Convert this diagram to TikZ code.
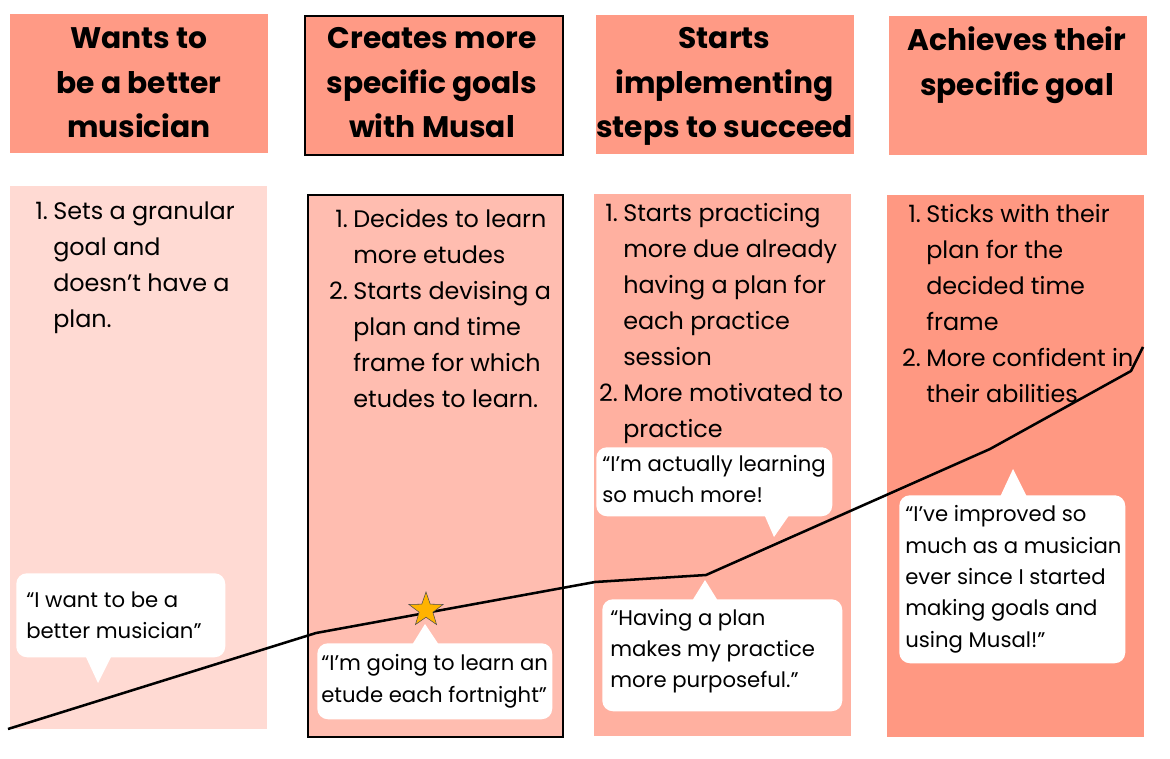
\documentclass[tikz,border=0pt]{standalone}
\usepackage{fontspec}
\setmainfont{Poppins}
\usetikzlibrary{shapes.geometric}

\definecolor{headred}{HTML}{FF9A85}
\definecolor{stageone}{HTML}{FFDAD3}
\definecolor{stagetwo}{HTML}{FFBDB0}
\definecolor{stagethree}{HTML}{FFB0A0}
\definecolor{stagefour}{HTML}{FF9882}
\definecolor{staryellow}{HTML}{FFB300}

\newcommand{\num}[1]{\makebox[22.5pt][r]{#1\hspace{4pt}}}
\newcommand{\gap}{\hspace*{22.5pt}}

\begin{document}
\begin{tikzpicture}[x=0.75pt,y=-0.75pt,
  head/.style={fill=headred,minimum width=193.5pt,minimum height=104.25pt,inner sep=0,anchor=north west},
  stage/.style={minimum width=192.75pt,minimum height=406.5pt,inner sep=0,anchor=north west},
  frame/.style={draw=black,line width=1.5pt},
  headtext/.style={font=\bfseries\fontsize{22.3pt}{33.4pt}\selectfont,align=center,anchor=base,inner sep=0},
  steptext/.style={font=\fontsize{17.9pt}{27pt}\selectfont,align=left,anchor=base west,inner sep=0},
  bubble/.style={fill=white,rounded corners=8pt,inner sep=0,anchor=north west},
  quote/.style={font=\fontsize{15.9pt}{23.5pt}\selectfont,align=left,anchor=west,inner sep=0},
  journey/.style={line width=1.9pt,line join=round}]
  \useasboundingbox (0,0) rectangle (1170,759);

  % column headers (text placed by the baseline of its last line)
  \node[head] (h1) at (10,14) {};
  \node[head,frame] (h2) at (304,15) {};
  \node[head] (h3) at (596,15) {};
  \node[head] (h4) at (889,16) {};
  \node[headtext] (t1) at (139,138) {Wants to\\be a better\\musician};
  \node[headtext] (t2) at (432,138) {Creates more\\specific goals\\with Musal};
  \node[headtext] (t3) at (724.5,138) {Starts\\implementing\\steps to succeed};
  \node[headtext] (t4) at (1017,95.5) {Achieves their\\specific goal};

  % column bodies
  \node[stage,fill=stageone,minimum height=407.25pt] (b1) at (10,186) {};
  \node[stage,fill=stagetwo,frame,minimum width=191.25pt] (b2) at (307,194) {};
  \node[stage,fill=stagethree] (b3) at (594,194) {};
  \node[stage,fill=stagefour] (b4) at (887,195) {};

  \node[steptext] (s1) at (23,327) {\num{1.}Sets a granular\\\gap goal and\\\gap doesn’t have a\\\gap plan.};
  \node[steptext] (s2) at (323,407) {\num{1.}Decides to learn\\\gap more etudes\\\num{2.}Starts devising a\\\gap plan and time\\\gap frame for which\\\gap etudes to learn.};
  \node[steptext] (s3) at (593,437) {\num{1.}Starts practicing\\\gap more due already\\\gap having a plan for\\\gap each practice\\\gap session\\\num{2.}More motivated to\\\gap practice};
  \node[steptext] (s4) at (896,402) {\num{1.}Sticks with their\\\gap plan for the\\\gap decided time\\\gap frame\\\num{2.}More confident in\\\gap their abilities};

  % speech bubbles
  \node[bubble,minimum width=156.75pt,minimum height=63pt] (q1) at (16,573) {};
  \fill[white] (85,655) -- (98,683) -- (112,655) -- cycle;
  \node[quote] (w1) at ([xshift=7.5pt]q1.west) {“I want to be a\\better musician”};

  \node[bubble,minimum width=176.25pt,minimum height=57pt] (q2) at (317,643) {};
  \fill[white] (412,645) -- (425,624) -- (439,645) -- cycle;
  \node[quote] (w2) at ([xshift=3pt]q2.west) {“I’m going to learn an\\etude each fortnight”};

  \node[bubble,minimum width=177pt,minimum height=51.75pt] (q3) at (596,447) {};
  \fill[white] (764,514) -- (774,537) -- (790,514) -- cycle;
  \node[quote] (w3) at ([xshift=4.5pt,yshift=2pt]q3.west) {“I’m actually learning\\so much more!};

  \node[bubble,minimum width=180pt,minimum height=84pt] (q4) at (602,599) {};
  \fill[white] (692,601) -- (705,580) -- (718,601) -- cycle;
  \node[quote] (w4) at ([xshift=6pt,yshift=3pt]q4.west) {“Having a plan\\makes my practice\\more purposeful.”};

  \node[bubble,minimum width=169.5pt,minimum height=126pt] (q5) at (899,495) {};
  \fill[white] (1000,497) -- (1013,469) -- (1027,497) -- cycle;
  \node[quote] (w5) at ([xshift=4.5pt]q5.west) {“I’ve improved so\\much as a musician\\ever since I started\\making goals and\\using Musal!”};

  % progress line
  \coordinate (p0) at (8,729);
  \coordinate (p1) at (316,633);
  \coordinate (p2) at (595,582);
  \coordinate (p3) at (706,575);
  \coordinate (p4) at (990,449);
  \coordinate (p5) at (1131,371);
  \coordinate (p6) at (1143,347);
  \draw[journey] (p0) -- (p1) -- (p2) -- (p3) -- (p4) -- (p5) -- (p6);

  \node[star,star points=5,star point ratio=2.5,minimum size=27pt,inner sep=0,fill=staryellow,draw=black!70,line width=0.4pt] (goal) at (426,610) {};
\end{tikzpicture}
\end{document}
